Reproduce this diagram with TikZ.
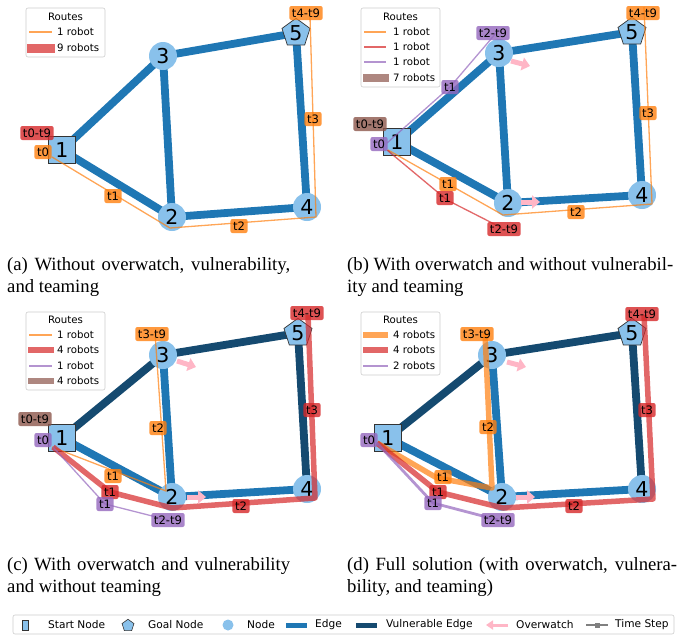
\documentclass[tikz,border=0pt]{standalone}
\usepackage{fontspec}
\setmainfont{Liberation Serif}
\setsansfont{DejaVu Sans}
\usetikzlibrary{arrows.meta,shapes.geometric}

\definecolor{edgeblue}{HTML}{1F77B4}
\definecolor{vulnblue}{HTML}{154A70}
\definecolor{nodefill}{HTML}{89C1EB}
\definecolor{rorange}{HTML}{FF7F0E}
\definecolor{rred}{HTML}{D62728}
\definecolor{rpurple}{HTML}{9467BD}
\definecolor{rbrown}{HTML}{8C564B}
\definecolor{pinkwatch}{HTML}{FFB6C6}
\definecolor{legedge}{HTML}{CCCCCC}

\pgfdeclarelayer{edges}
\pgfsetlayers{edges,main}

\newcommand\netnodes[6]{%
 \node[startnode] (#1-1) at (#2) {1};
 \node[plainnode] (#1-2) at (#3) {2};
 \node[plainnode] (#1-3) at (#4) {3};
 \node[plainnode] (#1-4) at (#5) {4};
 \node[goalnode] (#1-5) at (#6) {5};
}
\newcommand\tstep[4]{\node[stepbox,fill=#1] (#2) at (#3) {#4};}

\begin{document}
\begin{tikzpicture}[x=1pt,y=-1pt,font=\sffamily,
 edgeline/.style={line width=7.8pt},
 startnode/.style={draw=black!80,line width=.7pt,fill=nodefill,minimum size=27.5pt,inner sep=0pt,font=\fontsize{20.5}{20.5}\sffamily},
 plainnode/.style={circle,fill=nodefill,minimum size=28pt,inner sep=0pt,font=\fontsize{20.5}{20.5}\sffamily},
 goalnode/.style={regular polygon,regular polygon sides=5,draw=black!80,line width=.7pt,fill=nodefill,minimum size=29.5pt,inner sep=0pt,font=\fontsize{20.5}{20.5}\sffamily},
 route/.style={opacity=.7,line join=round},
 thinroute/.style={route,line width=1.3pt},
 midroute/.style={route,line width=2.8pt},
 thickroute/.style={route,line width=5.5pt},
 stepbox/.style={rounded corners=2pt,fill opacity=.8,text opacity=1,inner xsep=2.6pt,inner ysep=2.6pt,text height=8.5pt,text depth=.3pt,font=\fontsize{11.6}{11.6}\sffamily},
 legframe/.style={draw=legedge,fill=white,fill opacity=.8,rounded corners=2pt,line width=.6pt},
 legtext/.style={font=\fontsize{10.2}{10.2}\sffamily,inner sep=0pt},
 keytext/.style={font=\fontsize{10.6}{10.6}\sffamily,inner sep=0pt,anchor=west},
 watcharrow/.style={pinkwatch,line width=5pt,-{Triangle[length=8pt,width=13pt]}},
 capline/.style={anchor=base west,inner sep=0pt,font=\fontsize{18.7}{22}\rmfamily}]
\useasboundingbox (0,0) rectangle (699,635);

\netnodes{a}{62,150}{172,217}{163,56}{307,207}{296,33}
\netnodes{b}{397,142}{508,203}{499,53}{642,195}{632,32}
\netnodes{c}{62,438}{172,497}{163,355}{307,489}{298,333}
\netnodes{d}{388,438}{502,497}{492,355}{642,489}{632,333}

\begin{pgfonlayer}{edges}
\foreach \p/\col in {a/edgeblue,b/edgeblue,c/vulnblue,d/vulnblue}{
 \draw[edgeline,\col] (\p-1.center) -- (\p-3.center);
 \draw[edgeline,\col] (\p-3.center) -- (\p-5.center);
 \draw[edgeline,\col] (\p-5.center) -- (\p-4.center);
 \draw[edgeline,edgeblue] (\p-1.center) -- (\p-2.center);
 \draw[edgeline,edgeblue] (\p-3.center) -- (\p-2.center);
 \draw[edgeline,edgeblue] (\p-2.center) -- (\p-4.center);
}
\end{pgfonlayer}

\draw[thinroute,rorange] (52,157) -- (170,228) -- (316,217) -- (310,17);
\tstep{rred}{a-s0}{37,133}{t0-t9}
\tstep{rorange}{a-s1}{43,152}{t0}
\tstep{rorange}{a-s2}{113,196}{t1}
\tstep{rorange}{a-s3}{239,226}{t2}
\tstep{rorange}{a-s4}{313,119}{t3}
\tstep{rorange}{a-s5}{306,13}{t4-t9}

\draw[thinroute,rorange] (388,150) -- (503,215) -- (652,204) -- (644,7);
\draw[thinroute,rred] (387,150) -- (447,200) -- (502,228);
\draw[thinroute,rpurple] (387,143) -- (450,87) -- (497,32);
\draw[watcharrow] (511,61) -- (530,66);
\draw[watcharrow] (521,202) -- (540,202);
\tstep{rbrown}{b-s0}{370,124}{t0-t9}
\tstep{rpurple}{b-s1}{379,144}{t0}
\tstep{rpurple}{b-s2}{450,87}{t1}
\tstep{rpurple}{b-s3}{493,33}{t2-t9}
\tstep{rorange}{b-s4}{448,184}{t1}
\tstep{rred}{b-s5}{445,198}{t1}
\tstep{rred}{b-s6}{504,229}{t2-t9}
\tstep{rorange}{b-s7}{576,212}{t2}
\tstep{rorange}{b-s8}{648,113}{t3}
\tstep{rorange}{b-s9}{643,13}{t4-t9}

\draw[thinroute,rorange] (52,447) -- (166,491) -- (155,333);
\draw[thickroute,rred] (53,447) -- (110,492) -- (172,508) -- (315,498) -- (308,315);
\draw[thinroute,rpurple] (53,447) -- (105,504) -- (168,520);
\draw[watcharrow] (177,361) -- (196,367);
\draw[watcharrow] (187,497) -- (206,497);
\tstep{rbrown}{c-s0}{35,419}{t0-t9}
\tstep{rpurple}{c-s1}{43,440}{t0}
\tstep{rorange}{c-s2}{113,476}{t1}
\tstep{rred}{c-s3}{110,492}{t1}
\tstep{rpurple}{c-s4}{105,504}{t1}
\tstep{rpurple}{c-s5}{168,520}{t2-t9}
\tstep{rred}{c-s6}{241,506}{t2}
\tstep{rred}{c-s7}{312,410}{t3}
\tstep{rred}{c-s8}{307,313}{t4-t9}
\tstep{rorange}{c-s9}{158,428}{t2}
\tstep{rorange}{c-s10}{152,334}{t3-t9}

\draw[thickroute,rorange] (377,443) -- (437,478) -- (492,488) -- (485,333);
\draw[thickroute,rred] (377,443) -- (438,492) -- (503,508) -- (653,499) -- (644,315);
\draw[midroute,rpurple] (377,443) -- (433,503) -- (498,520);
\draw[watcharrow] (507,362) -- (526,367);
\draw[watcharrow] (516,497) -- (535,497);
\tstep{rpurple}{d-s1}{369,440}{t0}
\tstep{rorange}{d-s2}{443,477}{t1}
\tstep{rred}{d-s3}{438,492}{t1}
\tstep{rpurple}{d-s4}{433,503}{t1}
\tstep{rpurple}{d-s5}{498,520}{t2-t9}
\tstep{rred}{d-s6}{574,506}{t2}
\tstep{rred}{d-s7}{647,410}{t3}
\tstep{rred}{d-s8}{642,314}{t4-t9}
\tstep{rorange}{d-s9}{488,427}{t2}
\tstep{rorange}{d-s10}{477,334}{t3-t9}

\draw[legframe] (26,8) rectangle (105,57);
\node[legtext] (a-kt) at (65.5,17) {Routes};
\draw[rorange,opacity=.7,line width=1.3pt] (29,32) -- (52,32);
\node[legtext,anchor=west] (a-k1) at (57,32) {1 robot};
\draw[rred,opacity=.7,line width=9pt] (27,48) -- (55,48);
\node[legtext,anchor=west] (a-k2) at (57,48) {9 robots};

\draw[legframe] (361,8) rectangle (440,87);
\node[legtext] (b-kt) at (400.5,17) {Routes};
\draw[rorange,opacity=.7,line width=1.3pt] (364,32) -- (386,32);
\node[legtext,anchor=west] (b-k1) at (393,32) {1 robot};
\draw[rred,opacity=.7,line width=1.3pt] (364,47) -- (386,47);
\node[legtext,anchor=west] (b-k2) at (393,47) {1 robot};
\draw[rpurple,opacity=.7,line width=1.3pt] (364,62) -- (386,62);
\node[legtext,anchor=west] (b-k3) at (393,62) {1 robot};
\draw[rbrown,opacity=.7,line width=8pt] (363,78) -- (389,78);
\node[legtext,anchor=west] (b-k4) at (393,78) {7 robots};

\draw[legframe] (26,312) rectangle (105,390);
\node[legtext] (c-kt) at (65.5,320) {Routes};
\draw[rorange,opacity=.7,line width=1.3pt] (29,335) -- (52,335);
\node[legtext,anchor=west] (c-k1) at (57,335) {1 robot};
\draw[rred,opacity=.7,line width=5.5pt] (28,350) -- (54,350);
\node[legtext,anchor=west] (c-k2) at (57,350) {4 robots};
\draw[rpurple,opacity=.7,line width=1.3pt] (29,366) -- (52,366);
\node[legtext,anchor=west] (c-k3) at (57,366) {1 robot};
\draw[rbrown,opacity=.7,line width=5.5pt] (28,381) -- (54,381);
\node[legtext,anchor=west] (c-k4) at (57,381) {4 robots};

\draw[legframe] (361,312) rectangle (440,375);
\node[legtext] (d-kt) at (400.5,320) {Routes};
\draw[rorange,opacity=.7,line width=5.5pt] (363,335) -- (388,335);
\node[legtext,anchor=west] (d-k1) at (393,335) {4 robots};
\draw[rred,opacity=.7,line width=5.5pt] (363,350) -- (388,350);
\node[legtext,anchor=west] (d-k2) at (393,350) {4 robots};
\draw[rpurple,opacity=.7,line width=2.8pt] (363,366) -- (388,366);
\node[legtext,anchor=west] (d-k3) at (393,366) {2 robots};

\node[capline] (cap-a1) at (7,270) {\makebox[283pt][s]{(a) Without overwatch, vulnerability,}};
\node[capline] (cap-a2) at (7,292) {and teaming};
\node[capline] (cap-b1) at (347,270) {\makebox[326pt][s]{(b) With overwatch and without vulnerabil-}};
\node[capline] (cap-b2) at (347,292) {ity and teaming};
\node[capline] (cap-c1) at (7,570) {\makebox[283pt][s]{(c) With overwatch and vulnerability}};
\node[capline] (cap-c2) at (7,592) {and without teaming};
\node[capline] (cap-d1) at (347,570) {\makebox[330pt][s]{(d) Full solution (with overwatch, vulnera-}};
\node[capline] (cap-d2) at (347,592) {bility, and teaming)};

\draw[legframe] (13,615) rectangle (674,634);
\node[draw=black!80,line width=.6pt,fill=nodefill,minimum width=6pt,minimum height=10pt,inner sep=0pt] (k-start) at (25,625) {};
\node[keytext] (k-starttxt) at (48,625) {Start Node};
\node[regular polygon,regular polygon sides=5,draw=black!80,line width=.6pt,fill=nodefill,minimum size=12.5pt,inner sep=0pt] (k-goal) at (128,625.5) {};
\node[keytext] (k-goaltxt) at (148,625) {Goal Node};
\node[circle,fill=nodefill,minimum size=11pt,inner sep=0pt] (k-node) at (228,625) {};
\node[keytext] (k-nodetxt) at (247,625) {Node};
\fill[edgeblue] (286,622.5) rectangle (307,627.5);
\node[keytext] (k-edgetxt) at (315,625) {Edge};
\fill[vulnblue] (356,622.5) rectangle (377,627.5);
\node[keytext] (k-vulntxt) at (386,625) {Vulnerable Edge};
\draw[pinkwatch,line width=3pt,-{Triangle[length=7pt,width=9pt]}] (508,625) -- (486,625);
\node[keytext] (k-watchtxt) at (516,625) {Overwatch};
\draw[gray,line width=1.3pt] (586,625) -- (608,625);
\fill[gray] (594.5,622.5) rectangle (599.5,627.5);
\node[keytext] (k-steptxt) at (615,625) {Time Step};
\end{tikzpicture}
\end{document}
